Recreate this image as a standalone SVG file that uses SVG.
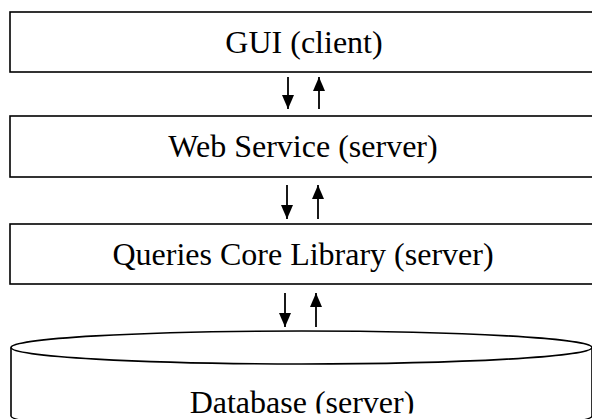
<svg xmlns="http://www.w3.org/2000/svg" width="592" height="419" viewBox="0 0 592 419">
<style>
.box{fill:#fff;stroke:#000;stroke-width:1.6}
.lbl{font-family:"Liberation Serif","Times New Roman",serif;font-size:32px;fill:#000;text-anchor:middle}
.ln{stroke:#000;stroke-width:1.8;fill:none}
</style>
<defs>
<marker id="ah" viewBox="0 0 14 12" refX="14" refY="6" markerWidth="14" markerHeight="12" markerUnits="userSpaceOnUse" orient="auto">
<path d="M0,0 L14,6 L0,12 Z" fill="#000"/>
</marker>
<clipPath id="dbclip"><rect x="0" y="0" width="592" height="413.5"/></clipPath>
</defs>
<g id="gui"><rect class="box" x="10" y="12" width="600" height="60"/><text class="lbl" x="304" y="53">GUI (client)</text></g>
<g id="web"><rect class="box" x="10" y="116" width="600" height="61"/><text class="lbl" x="303" y="157">Web Service (server)</text></g>
<g id="core"><rect class="box" x="10" y="224" width="600" height="60"/><text class="lbl" x="303" y="265">Queries Core Library (server)</text></g>
<g id="db"><path class="box" d="M11,347.5 L11,416 A290.5,16.5 0 0 0 592,416 L592,347.5"/><ellipse class="box" cx="301.5" cy="347.5" rx="290.5" ry="16.5"/><text class="lbl" x="302" y="413" clip-path="url(#dbclip)">Database (server)</text></g>
<g id="connectors">
<line class="ln" x1="288" y1="77" x2="288" y2="109" marker-end="url(#ah)"/>
<line class="ln" x1="319" y1="109" x2="319" y2="77" marker-end="url(#ah)"/>
<line class="ln" x1="287" y1="185" x2="287" y2="219" marker-end="url(#ah)"/>
<line class="ln" x1="318" y1="219" x2="318" y2="185" marker-end="url(#ah)"/>
<line class="ln" x1="285" y1="293" x2="285" y2="327" marker-end="url(#ah)"/>
<line class="ln" x1="316" y1="327" x2="316" y2="293" marker-end="url(#ah)"/>
</g>
</svg>
